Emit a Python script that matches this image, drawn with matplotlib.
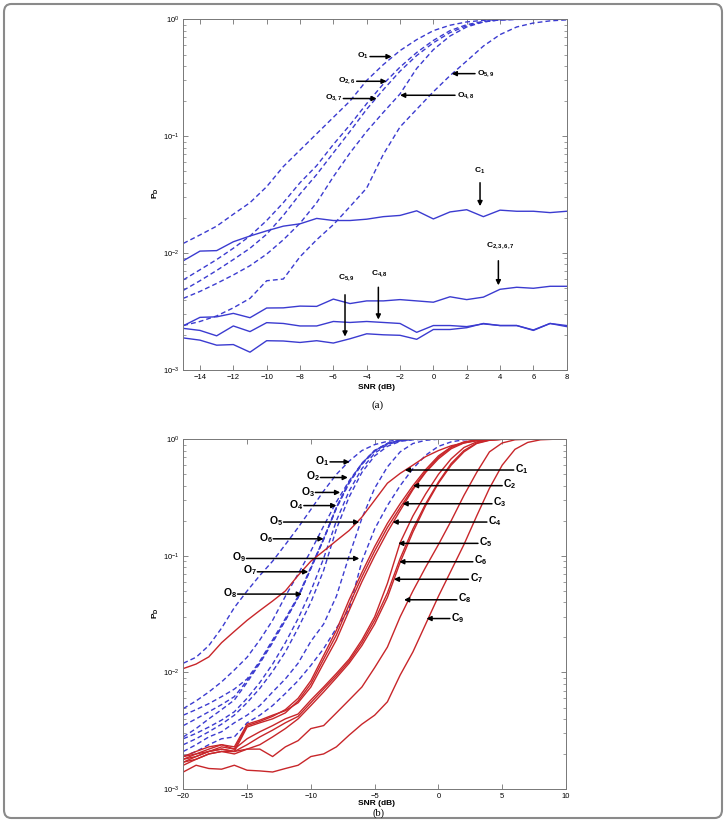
import matplotlib
matplotlib.use('Agg')
import matplotlib.pyplot as plt
from matplotlib.patches import FancyBboxPatch

plt.rcParams['font.family'] = ['Liberation Sans', 'DejaVu Sans']
plt.rcParams['mathtext.fontset'] = 'custom'
plt.rcParams['mathtext.rm'] = 'Liberation Sans'
plt.rcParams['mathtext.bf'] = 'Liberation Sans:bold'
plt.rcParams['mathtext.it'] = 'Liberation Sans:italic'

BLUE = '#3b3bd0'
RED = '#c8262a'

# ---------------- panel (a) data ----------------
snr_a = list(range(-15, 9))

o1_a = [0.0121, 0.0143, 0.017, 0.0215, 0.027, 0.037, 0.055, 0.076, 0.105, 0.145, 0.2, 0.3,
        0.41, 0.54, 0.67, 0.8, 0.89, 0.95, 0.98, 0.995, 1, 1, 1, 1]
o26_a = [0.0059, 0.0072, 0.0088, 0.011, 0.014, 0.019, 0.027, 0.04, 0.056, 0.085, 0.125, 0.19,
         0.28, 0.39, 0.52, 0.66, 0.8, 0.9, 0.96, 0.99, 1, 1, 1, 1]
o37_a = [0.0048, 0.0058, 0.0071, 0.0088, 0.011, 0.0145, 0.021, 0.032, 0.047, 0.072, 0.11, 0.17,
         0.25, 0.36, 0.49, 0.63, 0.77, 0.88, 0.95, 0.99, 1, 1, 1, 1]
o48_a = [0.0041, 0.0047, 0.0055, 0.0065, 0.0078, 0.0098, 0.013, 0.018, 0.027, 0.045, 0.072, 0.11,
         0.16, 0.23, 0.38, 0.55, 0.72, 0.86, 0.95, 0.99, 1, 1, 1, 1]
o59_a = [0.0024, 0.0026, 0.0029, 0.0034, 0.0041, 0.0058, 0.006, 0.0093, 0.013, 0.0175, 0.025, 0.036,
         0.07, 0.12, 0.17, 0.24, 0.33, 0.44, 0.59, 0.74, 0.86, 0.93, 0.97, 0.99]

c1_a = [0.0086, 0.0104, 0.0105, 0.0125, 0.014, 0.0155, 0.017, 0.0178, 0.0198, 0.019, 0.019, 0.0195,
        0.0205, 0.021, 0.023, 0.0196, 0.0225, 0.0235, 0.0205, 0.0233, 0.0228, 0.0228, 0.0222, 0.0228]
c2367_a = [0.00239, 0.00282, 0.00285, 0.00305, 0.0028, 0.00339, 0.0034, 0.00352, 0.0035, 0.00404,
           0.0037, 0.0039, 0.0039, 0.004, 0.0039, 0.0038, 0.00423, 0.004, 0.0042, 0.0049, 0.0051,
           0.005, 0.0052, 0.0052]
c48_a = [0.00227, 0.00218, 0.00196, 0.00238, 0.00213, 0.00254, 0.0025, 0.00238, 0.00238, 0.0026,
         0.00255, 0.0026, 0.00255, 0.0025, 0.0021, 0.0024, 0.0024, 0.00235, 0.00248, 0.0024, 0.0024,
         0.00218, 0.0025, 0.00235]
c59_a = [0.00188, 0.0018, 0.00163, 0.00165, 0.00142, 0.00178, 0.00177, 0.00172, 0.00178, 0.0017,
         0.00185, 0.00204, 0.002, 0.00198, 0.00183, 0.00222, 0.00222, 0.0023, 0.0025, 0.0024, 0.0024,
         0.0022, 0.0025, 0.0024]

# ---------------- panel (b) data ----------------
snr_b = list(range(-20, 11))

o_b = {
    1: [0.012, 0.0135, 0.017, 0.024, 0.036, 0.05, 0.068, 0.09, 0.125, 0.175, 0.25, 0.36, 0.5, 0.65,
        0.8, 0.9, 0.96, 0.99, 1, 1, 1, 1, 1, 1, 1, 1, 1, 1, 1, 1, 1],
    2: [0.0049, 0.0057, 0.0068, 0.0083, 0.0105, 0.0135, 0.019, 0.028, 0.045, 0.07, 0.11, 0.18, 0.29,
        0.44, 0.62, 0.8, 0.92, 0.98, 1, 1, 1, 1, 1, 1, 1, 1, 1, 1, 1, 1, 1],
    3: [0.0043, 0.0048, 0.0054, 0.0062, 0.0072, 0.0088, 0.0125, 0.019, 0.029, 0.045, 0.08, 0.14, 0.26,
        0.43, 0.62, 0.8, 0.92, 0.98, 1, 1, 1, 1, 1, 1, 1, 1, 1, 1, 1, 1, 1],
    4: [0.0035, 0.004, 0.0046, 0.0053, 0.0062, 0.0085, 0.0122, 0.0185, 0.028, 0.044, 0.078, 0.138,
        0.255, 0.42, 0.61, 0.79, 0.915, 0.975, 1, 1, 1, 1, 1, 1, 1, 1, 1, 1, 1, 1, 1],
    5: [0.0021, 0.0024, 0.0028, 0.0031, 0.0037, 0.0043, 0.0052, 0.0068, 0.0088, 0.012, 0.0185, 0.026,
        0.045, 0.1, 0.21, 0.38, 0.58, 0.78, 0.92, 0.98, 1, 1, 1, 1, 1, 1, 1, 1, 1, 1, 1],
    6: [0.0028, 0.0033, 0.004, 0.0048, 0.0058, 0.0082, 0.012, 0.018, 0.028, 0.044, 0.078, 0.14, 0.26,
        0.43, 0.62, 0.8, 0.92, 0.98, 1, 1, 1, 1, 1, 1, 1, 1, 1, 1, 1, 1, 1],
    7: [0.0027, 0.003, 0.0034, 0.0039, 0.0046, 0.006, 0.0082, 0.0118, 0.018, 0.029, 0.05, 0.095, 0.2,
        0.36, 0.56, 0.76, 0.9, 0.97, 1, 1, 1, 1, 1, 1, 1, 1, 1, 1, 1, 1, 1],
    8: [0.0024, 0.0027, 0.0031, 0.0036, 0.0043, 0.0055, 0.0073, 0.0102, 0.015, 0.024, 0.04, 0.075,
        0.17, 0.32, 0.52, 0.72, 0.87, 0.96, 0.99, 1, 1, 1, 1, 1, 1, 1, 1, 1, 1, 1, 1],
    9: [0.0019, 0.0021, 0.0024, 0.0027, 0.0028, 0.0037, 0.0043, 0.0052, 0.0066, 0.0085, 0.0115, 0.016,
        0.024, 0.035, 0.09, 0.17, 0.27, 0.4, 0.56, 0.73, 0.87, 0.95, 0.99, 1, 1, 1, 1, 1, 1, 1, 1],
}

c_b = {
    1: [0.0108, 0.0118, 0.0136, 0.018, 0.0225, 0.028, 0.034, 0.041, 0.05, 0.068, 0.09, 0.11, 0.135,
        0.165, 0.215, 0.3, 0.42, 0.51, 0.6, 0.71, 0.8, 0.88, 0.93, 0.97, 0.99, 1, 1, 1, 1, 1, 1],
    2: [0.0019, 0.002, 0.0022, 0.0024, 0.0023, 0.0036, 0.0039, 0.0043, 0.0047, 0.0055, 0.0075, 0.012,
        0.019, 0.034, 0.06, 0.1, 0.16, 0.245, 0.37, 0.52, 0.68, 0.83, 0.93, 0.98, 1, 1, 1, 1, 1, 1, 1],
    3: [0.0017, 0.0018, 0.002, 0.0021, 0.0021, 0.0034, 0.0037, 0.004, 0.0045, 0.0057, 0.008, 0.013,
        0.021, 0.038, 0.066, 0.11, 0.175, 0.26, 0.38, 0.53, 0.7, 0.85, 0.94, 0.985, 1, 1, 1, 1, 1, 1, 1],
    4: [0.0018, 0.0019, 0.0021, 0.0023, 0.0022, 0.0035, 0.0038, 0.0042, 0.0048, 0.006, 0.0085, 0.014,
        0.023, 0.042, 0.072, 0.12, 0.19, 0.28, 0.4, 0.55, 0.72, 0.86, 0.95, 0.99, 1, 1, 1, 1, 1, 1, 1],
    5: [0.0019, 0.0021, 0.0023, 0.0024, 0.0022, 0.0027, 0.0031, 0.0035, 0.004, 0.0044, 0.0058, 0.0075,
        0.0098, 0.013, 0.019, 0.03, 0.058, 0.13, 0.22, 0.34, 0.5, 0.68, 0.85, 0.95, 0.99, 1, 1, 1, 1, 1, 1],
    6: [0.0018, 0.002, 0.0021, 0.0022, 0.0021, 0.0024, 0.0028, 0.0032, 0.0037, 0.0042, 0.0055, 0.0072,
        0.0094, 0.0125, 0.018, 0.028, 0.048, 0.095, 0.17, 0.28, 0.43, 0.62, 0.8, 0.93, 0.985, 1, 1, 1,
        1, 1, 1],
    7: [0.0016, 0.0018, 0.002, 0.0021, 0.002, 0.0022, 0.0024, 0.0028, 0.0033, 0.004, 0.0052, 0.0068,
        0.009, 0.012, 0.017, 0.026, 0.044, 0.088, 0.16, 0.27, 0.42, 0.6, 0.78, 0.92, 0.98, 1, 1, 1, 1, 1, 1],
    8: [0.0017, 0.0019, 0.0021, 0.0022, 0.0021, 0.0022, 0.0022, 0.0019, 0.0023, 0.0026, 0.0033, 0.0035,
        0.0045, 0.0058, 0.0075, 0.011, 0.0165, 0.03, 0.05, 0.08, 0.125, 0.2, 0.33, 0.52, 0.78, 0.93, 0.99,
        1, 1, 1, 1],
    9: [0.0014, 0.0016, 0.0015, 0.00148, 0.0016, 0.00145, 0.00143, 0.0014, 0.0015, 0.0016, 0.0019,
        0.002, 0.0023, 0.0029, 0.0036, 0.0043, 0.0056, 0.0095, 0.015, 0.026, 0.045, 0.075, 0.125, 0.22,
        0.38, 0.6, 0.82, 0.94, 0.99, 1, 1],
}

# annotations: (label, text x, text y, ha, arrow tail, arrow tip)
notes_a = [
    (r'$\mathbf{O_{1}}$', -3.85, 0.49, 'right', (-3.8, 0.48), (-2.5, 0.48)),
    (r'$\mathbf{O_{2,6}}$', -4.65, 0.30, 'right', (-4.6, 0.295), (-2.8, 0.295)),
    (r'$\mathbf{O_{3,7}}$', -5.45, 0.215, 'right', (-5.4, 0.21), (-3.4, 0.21)),
    (r'$\mathbf{O_{4,8}}$', 1.4, 0.224, 'left', (1.3, 0.224), (-2.0, 0.224)),
    (r'$\mathbf{O_{5,9}}$', 2.6, 0.345, 'left', (2.5, 0.343), (1.1, 0.343)),
]
vnotes_a = [
    (r'$\mathbf{C_{1}}$', 2.8, 0.046, (2.8, 0.040), (2.8, 0.0252)),
    (r'$\mathbf{C_{2,3,6,7}}$', 4.0, 0.0104, (3.9, 0.0086), (3.9, 0.0053)),
    (r'$\mathbf{C_{5,9}}$', -5.2, 0.0056, (-5.3, 0.0044), (-5.3, 0.00193)),
    (r'$\mathbf{C_{4,8}}$', -3.2, 0.0060, (-3.3, 0.0051), (-3.3, 0.0027)),
]
notes_b = [
    (r'$\mathbf{O_{1}}$', -8.55, 0.65, 'right', (-8.5, 0.64), (-6.95, 0.64)),
    (r'$\mathbf{O_{2}}$', -9.3, 0.48, 'right', (-9.25, 0.47), (-7.1, 0.47)),
    (r'$\mathbf{O_{3}}$', -9.7, 0.355, 'right', (-9.65, 0.35), (-7.7, 0.35)),
    (r'$\mathbf{O_{4}}$', -10.6, 0.275, 'right', (-10.55, 0.27), (-8.0, 0.27)),
    (r'$\mathbf{O_{5}}$', -12.2, 0.2, 'right', (-12.15, 0.195), (-6.2, 0.195)),
    (r'$\mathbf{O_{6}}$', -13.0, 0.143, 'right', (-12.95, 0.14), (-9.0, 0.14)),
    (r'$\mathbf{O_{9}}$', -15.1, 0.097, 'right', (-15.05, 0.095), (-6.2, 0.095)),
    (r'$\mathbf{O_{7}}$', -14.25, 0.075, 'right', (-14.2, 0.073), (-10.2, 0.073)),
    (r'$\mathbf{O_{8}}$', -15.8, 0.048, 'right', (-15.75, 0.047), (-10.7, 0.047)),
    (r'$\mathbf{C_{1}}$', 6.0, 0.56, 'left', (5.9, 0.545), (-2.64, 0.545)),
    (r'$\mathbf{C_{2}}$', 5.1, 0.41, 'left', (5.0, 0.40), (-2.0, 0.40)),
    (r'$\mathbf{C_{3}}$', 4.3, 0.29, 'left', (4.2, 0.28), (-2.82, 0.28)),
    (r'$\mathbf{C_{4}}$', 3.9, 0.2, 'left', (3.8, 0.195), (-3.6, 0.195)),
    (r'$\mathbf{C_{5}}$', 3.2, 0.132, 'left', (3.1, 0.128), (-3.16, 0.128)),
    (r'$\mathbf{C_{6}}$', 2.8, 0.092, 'left', (2.7, 0.089), (-3.08, 0.089)),
    (r'$\mathbf{C_{7}}$', 2.45, 0.065, 'left', (2.35, 0.063), (-3.5, 0.063)),
    (r'$\mathbf{C_{8}}$', 1.55, 0.043, 'left', (1.45, 0.042), (-2.7, 0.042)),
    (r'$\mathbf{C_{9}}$', 1.0, 0.029, 'left', (0.9, 0.029), (-0.94, 0.029)),
]


def style_axes(ax, xlim, xticks):
    ax.set_yscale('log')
    ax.set_xlim(*xlim)
    ax.set_ylim(1e-3, 1)
    ax.set_xticks(xticks)
    ax.set_xticklabels([str(t).replace('-', '\u2212') for t in xticks])
    ax.tick_params(which='both', direction='in', top=True, right=True, labelsize=5.5,
                   color='#555555', pad=3)
    ax.tick_params(which='major', length=3.5, width=0.5)
    ax.tick_params(which='minor', length=2, width=0.4)
    for s in ax.spines.values():
        s.set_color('#777777')
        s.set_linewidth(0.7)


def arrow(ax, tail, tip):
    ax.annotate('', xy=tip, xytext=tail,
                arrowprops=dict(arrowstyle='-|>', color='black', lw=1.1,
                                mutation_scale=7, shrinkA=0, shrinkB=0))


fig = plt.figure(figsize=(7.26, 8.22), dpi=100)

# ---- (a) ----
ax1 = fig.add_axes([0.2525, 0.5499, 0.5281, 0.4266])
dash = (3.5, 2.2)
for ys in [o1_a, o26_a, o37_a, o48_a, o59_a]:
    ax1.plot(snr_a, ys, color=BLUE, lw=1.0, linestyle=(0, dash))
for ys in [c1_a, c2367_a, c48_a, c59_a]:
    ax1.plot(snr_a, ys, color=BLUE, lw=1.0)
style_axes(ax1, (-15, 8), list(range(-14, 9, 2)))

for lab, tx, ty, ha, tail, tip in notes_a:
    ax1.text(tx, ty, lab, ha=ha, va='center', fontsize=6)
    arrow(ax1, tail, tip)
for lab, tx, ty, tail, tip in vnotes_a:
    ax1.text(tx, ty, lab, ha='center', va='bottom', fontsize=6)
    arrow(ax1, tail, tip)

# ---- (b) ----
ax2 = fig.add_axes([0.2525, 0.0401, 0.5271, 0.4255])
for k in range(1, 10):
    ax2.plot(snr_b, o_b[k], color=BLUE, lw=1.0, linestyle=(0, dash))
for k in range(1, 10):
    ax2.plot(snr_b, c_b[k], color=RED, lw=1.0)
style_axes(ax2, (-20, 10), list(range(-20, 11, 5)))

for lab, tx, ty, ha, tail, tip in notes_b:
    ax2.text(tx, ty, lab, ha=ha, va='center', fontsize=7.5)
    arrow(ax2, tail, tip)

# axis labels placed in figure pixels
W, H = 726.0, 822.0
for yl in [193, 613]:
    fig.text(156 / W, 1 - yl / H, r'$\mathbf{P_D}$', rotation=90, ha='center', va='center',
             fontsize=6)
fig.text(376 / W, 1 - 387 / H, 'SNR (dB)', ha='center', va='center', fontsize=6, weight='bold')
fig.text(376 / W, 1 - 803 / H, 'SNR (dB)', ha='center', va='center', fontsize=6, weight='bold')
fig.text(378 / W, 1 - 405 / H, '(a)', ha='center', va='center', fontsize=8,
         family='Liberation Serif')
fig.text(378 / W, 1 - 813 / H, '(b)', ha='center', va='center', fontsize=7.5,
         family='Liberation Serif')

# outer frame
frame = FancyBboxPatch((4 / W, 4 / H), 1 - 8 / W, 1 - 8 / H,
                       boxstyle='round,pad=0,rounding_size=0.01',
                       transform=fig.transFigure, fill=False, edgecolor='#8a8a8a', lw=1.5)
fig.patches.append(frame)

fig.savefig('out.png', dpi=100)
